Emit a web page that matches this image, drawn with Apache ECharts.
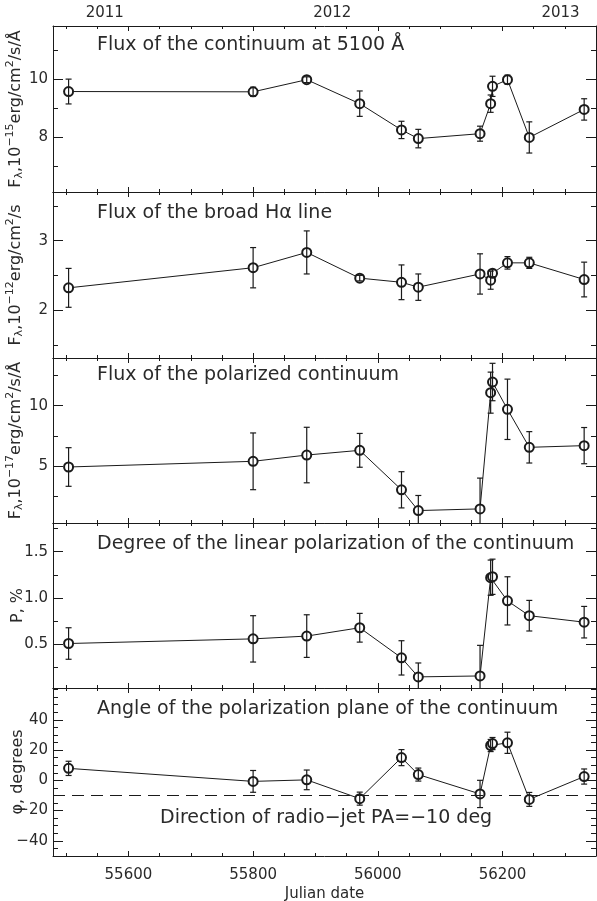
<!DOCTYPE html>
<html>
<head>
<meta charset="utf-8">
<script src="https://cdn.jsdelivr.net/npm/echarts@6/dist/echarts.min.js"></script>
<style>
  html, body { margin: 0; padding: 0; background: #fff; }
  #chart { width: 597px; height: 901px; }
</style>
</head>
<body>
<div id="chart"></div>
<script>
// Observation epochs (Julian date, JD - 2400000.5)
const epochs = [55504, 55800, 55886, 55971, 56038, 56065, 56164, 56181, 56184, 56208, 56243, 56331];

// Continuum flux at 5100 A, 1e-15 erg/cm2/s/A
const contFlux = [9.58, 9.57, 9.99, 9.16, 8.25, 7.95, 8.12, 9.16, 9.76, 9.99, 7.99, 8.96];
const contErr  = [0.43, 0.16, 0.10, 0.44, 0.30, 0.32, 0.26, 0.30, 0.35, 0.16, 0.54, 0.37];

// Broad H-alpha flux, 1e-12 erg/cm2/s
const haFlux = [2.32, 2.61, 2.83, 2.46, 2.40, 2.33, 2.52, 2.43, 2.53, 2.68, 2.68, 2.44];
const haErr  = [0.28, 0.29, 0.31, 0.04, 0.25, 0.19, 0.29, 0.13, 0.05, 0.09, 0.08, 0.25];

// Polarized continuum flux, 1e-17 erg/cm2/s/A
const polFlux = [4.92, 5.39, 5.91, 6.30, 3.03, 1.31, 1.45, 11.08, 11.96, 9.70, 6.55, 6.69];
const polErr  = [1.60, 2.35, 2.30, 1.40, 1.50, 1.25, 2.55, 1.70, 1.55, 2.50, 1.30, 1.50];

// Degree of linear polarization, %
const polDeg    = [0.51, 0.56, 0.59, 0.68, 0.355, 0.15, 0.16, 1.22, 1.23, 0.97, 0.81, 0.74];
const polDegErr = [0.17, 0.25, 0.23, 0.155, 0.185, 0.15, 0.33, 0.19, 0.19, 0.26, 0.165, 0.17];

// Polarization angle, degrees
const polAngle    = [7.9, -0.7, 0.3, -12.1, 15.0, 3.8, -9.0, 23.0, 24.3, 24.8, -12.6, 2.5];
const polAngleErr = [4.7, 7.2, 6.5, 4.3, 5.3, 4.3, 9.0, 4.0, 4.0, 7.0, 4.6, 5.0];

// Radio-jet position angle
const jetPA = -10;

// Axis ticks
const xMajorTicks = [55600, 55800, 56000, 56200];
const xMinorTicks = [55500, 55550, 55650, 55700, 55750, 55850, 55900, 55950,
                     56050, 56100, 56150, 56250, 56300];
const yearTicks  = [55562, 55927, 56293];
const yearLabels = ['2011', '2012', '2013'];

const X_MIN = 55479, X_MAX = 56350;
const INK = '#1a1a1a';
const TEXT = '#2a2a2a';
const FONT = 'DejaVu Sans';

const panels = [
  { vals: contFlux, errs: contErr, min: 6.1, max: 11.85,
    major: [8, 10], minor: [7, 9, 11], fmt: v => String(v),
    name: '{a|F}{sub|λ}{a|,10}{sup|−15}{a|erg/cm}{sup|2}{a|/s/Å}',
    note: 'Flux of the continuum at 5100 Å' },
  { vals: haFlux, errs: haErr, min: 1.31, max: 3.70,
    major: [2, 3], minor: [1.5, 2.5, 3.5], fmt: v => String(v),
    name: '{a|F}{sub|λ}{a|,10}{sup|−12}{a|erg/cm}{sup|2}{a|/s}',
    note: 'Flux of the broad Hα line' },
  { vals: polFlux, errs: polErr, min: 0.28, max: 13.95,
    major: [5, 10], minor: [2.5, 7.5, 12.5], fmt: v => String(v),
    name: '{a|F}{sub|λ}{a|,10}{sup|−17}{a|erg/cm}{sup|2}{a|/s/Å}',
    note: 'Flux of the polarized continuum' },
  { vals: polDeg, errs: polDegErr, min: 0.03, max: 1.81,
    major: [0.5, 1.0, 1.5], minor: [0.25, 0.75, 1.25, 1.75], fmt: v => v.toFixed(1),
    name: '{a|P, %}',
    note: 'Degree of the linear polarization of the continuum' },
  { vals: polAngle, errs: polAngleErr, min: -50, max: 61,
    major: [-40, -20, 0, 20, 40],
    minor: [-45, -35, -30, -25, -15, -10, -5, 5, 10, 15, 25, 30, 35, 45, 50, 55, 60],
    fmt: v => String(v).replace('-', '−'),
    name: '{a|φ, degrees}',
    note: 'Angle of the polarization plane of the continuum' }
];

const edges = [26, 192, 358, 523, 688, 856];
const noteY = [47, 215, 377, 546, 711];

const grids = [], xAxes = [], yAxes = [], series = [], graphics = [];

panels.forEach((p, i) => {
  grids.push({ left: 53, width: 543, top: edges[i], height: edges[i + 1] - edges[i],
               containLabel: false, outerBoundsMode: 'none' });

  const xBase = { type: 'value', gridIndex: i, min: X_MIN, max: X_MAX,
                  splitLine: { show: false } };
  const line = { show: true, onZero: false, lineStyle: { color: INK, width: 1 } };
  const noLine = { show: false, onZero: false };
  // bottom: long ticks every 200, short ticks every 50
  xAxes.push(Object.assign({}, xBase, {
    position: 'bottom', axisLine: line,
    axisTick: { inside: true, length: 5, customValues: xMajorTicks, lineStyle: { color: INK } },
    axisLabel: { show: i === 4, customValues: xMajorTicks, fontSize: 15, fontFamily: FONT,
                 color: TEXT, margin: 12, formatter: v => String(v) },
    name: i === 4 ? 'Julian date' : '', nameLocation: 'middle', nameGap: 31,
    nameMoveOverlap: false,
    nameTextStyle: { fontSize: 15, fontFamily: FONT, color: TEXT }
  }));
  xAxes.push(Object.assign({}, xBase, {
    position: 'bottom', axisLine: noLine,
    axisTick: { inside: true, length: 3, customValues: xMinorTicks, lineStyle: { color: INK } },
    axisLabel: { show: false }
  }));
  // top: same ticks, year labels on the first panel
  xAxes.push(Object.assign({}, xBase, {
    position: 'top', axisLine: line,
    axisTick: { inside: true, length: 5, customValues: xMajorTicks, lineStyle: { color: INK } },
    axisLabel: { show: i === 0, customValues: yearTicks, fontSize: 15, fontFamily: FONT,
                 color: TEXT, margin: 5,
                 formatter: v => yearLabels[yearTicks.indexOf(v)] }
  }));
  xAxes.push(Object.assign({}, xBase, {
    position: 'top', axisLine: noLine,
    axisTick: { inside: true, length: 3, customValues: xMinorTicks, lineStyle: { color: INK } },
    axisLabel: { show: false }
  }));

  const yBase = { type: 'value', gridIndex: i, min: p.min, max: p.max,
                  splitLine: { show: false } };
  yAxes.push(Object.assign({}, yBase, {
    position: 'left', axisLine: line,
    axisTick: { inside: true, length: 10, customValues: p.major, lineStyle: { color: INK } },
    axisLabel: { customValues: p.major, formatter: p.fmt, fontSize: 15, fontFamily: FONT,
                 color: TEXT, margin: 5 },
    name: p.name, nameLocation: 'middle', nameRotate: 90, nameGap: 27,
    nameMoveOverlap: false,
    nameTextStyle: {
      fontFamily: FONT, color: TEXT,
      rich: {
        a: { fontSize: 16, fontFamily: FONT, color: TEXT },
        sub: { fontSize: 11, fontFamily: FONT, color: TEXT, padding: [7, 0, 0, 0] },
        sup: { fontSize: 11, fontFamily: FONT, color: TEXT, padding: [0, 0, 10, 0] }
      }
    }
  }));
  yAxes.push(Object.assign({}, yBase, {
    position: 'left', axisLine: noLine,
    axisTick: { inside: true, length: 5, customValues: p.minor, lineStyle: { color: INK } },
    axisLabel: { show: false }
  }));
  yAxes.push(Object.assign({}, yBase, {
    position: 'right', axisLine: line,
    axisTick: { inside: true, length: 10, customValues: p.major, lineStyle: { color: INK } },
    axisLabel: { show: false }
  }));
  yAxes.push(Object.assign({}, yBase, {
    position: 'right', axisLine: noLine,
    axisTick: { inside: true, length: 5, customValues: p.minor, lineStyle: { color: INK } },
    axisLabel: { show: false }
  }));

  const pts = epochs.map((t, k) => [t, p.vals[k], p.errs[k]]);

  const lineSeries = {
    type: 'line', xAxisIndex: 4 * i, yAxisIndex: 4 * i, z: 2,
    data: pts.map(d => [d[0], d[1]]),
    symbol: 'emptyCircle', symbolSize: 9,
    itemStyle: { color: INK, borderColor: INK, borderWidth: 1 },
    lineStyle: { color: INK, width: 1 },
    animation: false
  };
  if (i === 4) {
    lineSeries.markLine = {
      silent: true, symbol: ['none', 'none'], label: { show: false },
      lineStyle: { color: INK, width: 1, type: [12, 7] },
      data: [{ yAxis: jetPA }]
    };
  }
  series.push(lineSeries);

  series.push({
    type: 'custom', xAxisIndex: 4 * i, yAxisIndex: 4 * i, z: 3,
    data: pts,
    animation: false,
    renderItem: function (params, api) {
      const x = api.value(0), y = api.value(1), e = api.value(2);
      const hi = api.coord([x, y + e]);
      const lo = api.coord([x, y - e]);
      const cs = params.coordSys;
      const yTop = Math.max(hi[1], cs.y);
      const yBot = Math.min(lo[1], cs.y + cs.height);
      const st = { stroke: INK, lineWidth: 1.2 };
      const cap = 3;
      const kids = [{ type: 'line', shape: { x1: hi[0], y1: yTop, x2: lo[0], y2: yBot }, style: st }];
      if (hi[1] >= cs.y) kids.push({ type: 'line', shape: { x1: hi[0] - cap, y1: hi[1], x2: hi[0] + cap, y2: hi[1] }, style: st });
      if (lo[1] <= cs.y + cs.height) kids.push({ type: 'line', shape: { x1: lo[0] - cap, y1: lo[1], x2: lo[0] + cap, y2: lo[1] }, style: st });
      return { type: 'group', children: kids };
    }
  });

  graphics.push({
    type: 'text', left: 97, top: noteY[i] - 11,
    style: { text: p.note, fontSize: 19, fontFamily: FONT, fill: TEXT }
  });
});

graphics.push({
  type: 'text', left: 160, top: 809,
  style: { text: 'Direction of radio−jet PA=−10 deg', fontSize: 19, fontFamily: FONT, fill: TEXT }
});

const chart = echarts.init(document.getElementById('chart'), null, { renderer: 'canvas' });
chart.setOption({
  animation: false,
  backgroundColor: '#fff',
  grid: grids,
  xAxis: xAxes,
  yAxis: yAxes,
  series: series,
  graphic: graphics
});
</script>
</body>
</html>
